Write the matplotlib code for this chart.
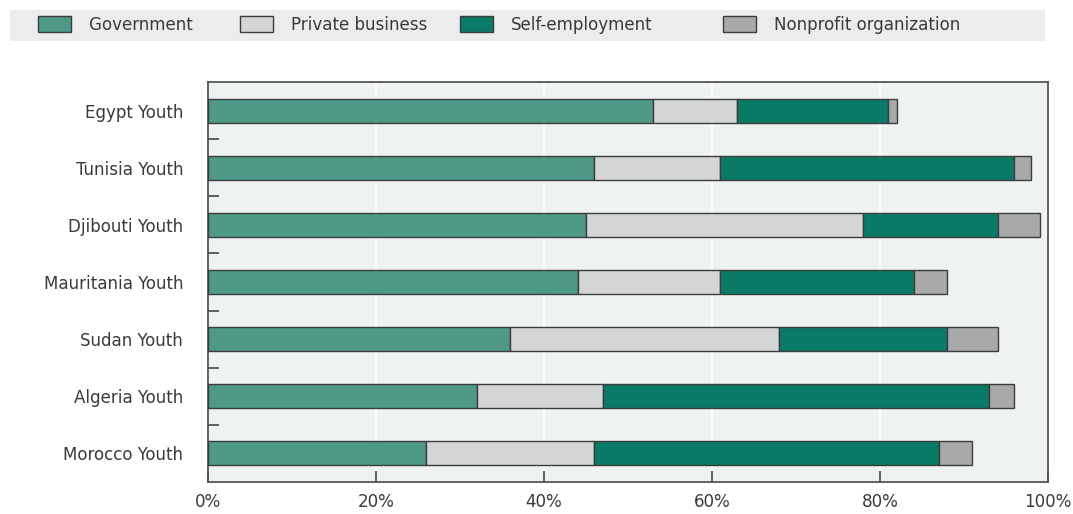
import matplotlib.pyplot as plt
import numpy as np
from matplotlib.patches import Patch, Rectangle

countries = ["Egypt Youth", "Tunisia Youth", "Djibouti Youth", "Mauritania Youth",
             "Sudan Youth", "Algeria Youth", "Morocco Youth"]
government = [53, 46, 45, 44, 36, 32, 26]
private_business = [10, 15, 33, 17, 32, 15, 20]
self_employment = [18, 35, 16, 23, 20, 46, 41]
nonprofit = [1, 2, 5, 4, 6, 3, 4]

series = ["Government", "Private business", "Self-employment", "Nonprofit organization"]
colors = ["#4f9a87", "#d4d5d7", "#087a66", "#a9a9a9"]
x_ticks = [0, 20, 40, 60, 80, 100]

plt.rcParams["font.family"] = ["Liberation Sans Narrow", "DejaVu Sans"]
plt.rcParams["font.stretch"] = "condensed"
text_color = "#3a3a3a"

fig = plt.figure(figsize=(10.73, 5.14), dpi=100)
ax = fig.add_axes([208 / 1073, 1 - 482 / 514, 840 / 1073, 400 / 514])
ax.set_facecolor("#eef3f2")

y = np.arange(len(countries))
left = np.zeros(len(countries))
for vals, col, name in zip([government, private_business, self_employment, nonprofit], colors, series):
    ax.barh(y, vals, left=left, height=0.42, color=col, edgecolor="#3c3c3c",
            linewidth=1.0, label=name, zorder=3)
    left += np.array(vals)

ax.set_xlim(0, 100)
ax.set_ylim(len(countries) - 0.5, -0.5)
ax.set_yticks(y)
ax.set_yticklabels(countries)
ax.set_yticks(np.arange(0.5, len(countries) - 1, 1), minor=True)
ax.set_xticks(x_ticks)
ax.set_xticklabels([f"{t}%" for t in x_ticks])

ax.tick_params(axis="y", which="major", length=0, pad=18, labelsize=13.3, labelcolor=text_color)
ax.tick_params(axis="y", which="minor", length=8, width=1.2, direction="in", color="#444444")
ax.tick_params(axis="x", length=8, width=1.2, direction="in", pad=8, labelsize=13.3,
               labelcolor=text_color, color="#444444")

ax.grid(axis="x", color="white", linewidth=1.2, zorder=1)
for s in ax.spines.values():
    s.set_color("#555555")
    s.set_linewidth(1.3)

# legend band across the top
fig.patches.append(Rectangle((10 / 1073, 1 - 41 / 514), 1035 / 1073, 31 / 514,
                             transform=fig.transFigure, facecolor="#ececec",
                             edgecolor="none", zorder=0))
handle_x = [38, 240, 460, 723]
for hx, col, name in zip(handle_x, colors, series):
    fig.legend([Patch(facecolor=col, edgecolor="#3c3c3c", linewidth=1.0)], [name],
               loc="center left", bbox_to_anchor=(hx / 1073, 1 - 25 / 514),
               frameon=False, fontsize=13.3, handlelength=1.8, handleheight=1.0,
               handletextpad=0.95, borderpad=0, borderaxespad=0, labelcolor=text_color)

fig.savefig("out.png", dpi=100)
